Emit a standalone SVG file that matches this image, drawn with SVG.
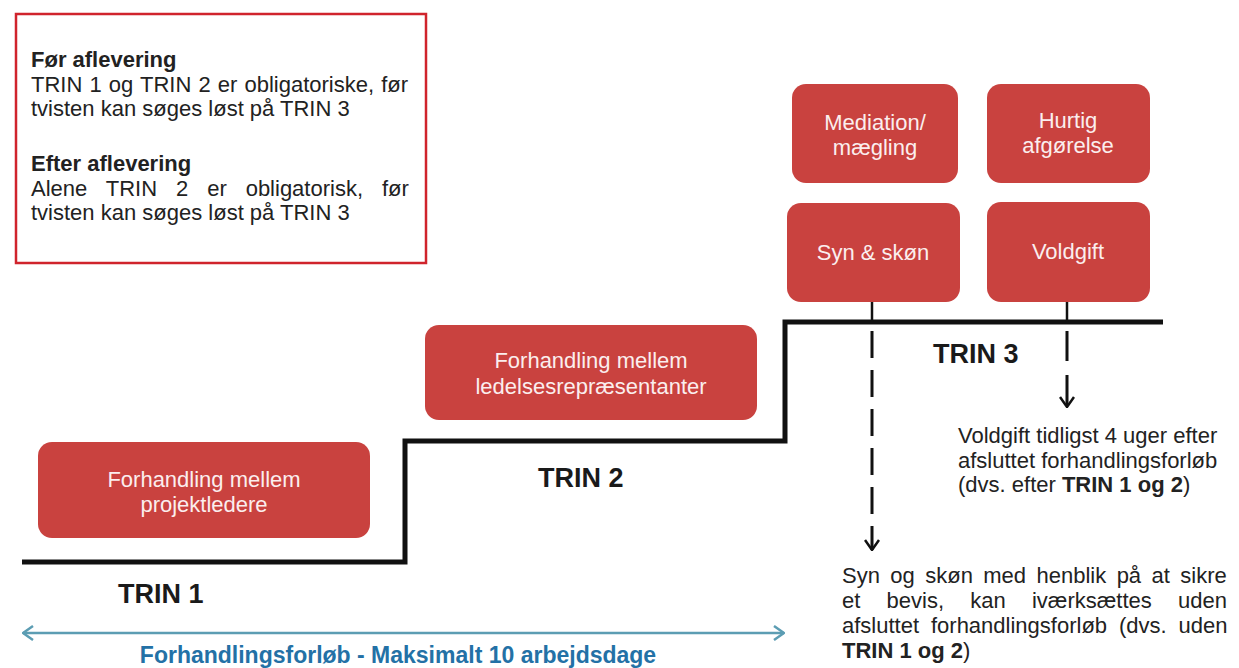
<svg xmlns="http://www.w3.org/2000/svg" width="1239" height="668" viewBox="0 0 1239 668">
<style>
.box{fill:#c9423f;}
.bt{font-family:"Liberation Sans",Arial,sans-serif;font-size:22px;fill:#fbeeee;text-anchor:middle;}
.t{font-family:"Liberation Sans",Arial,sans-serif;font-size:22px;fill:#222;}
.b{font-weight:bold;}
.trin{font-family:"Liberation Sans",Arial,sans-serif;font-size:27px;font-weight:bold;fill:#1a1a1a;}
.dash{fill:none;stroke:#111;stroke-width:3;}
.solid{fill:none;stroke:#111;stroke-width:2.5;}
</style>
<defs>
<marker id="ah" viewBox="0 0 12 16" refX="11" refY="8" markerWidth="12" markerHeight="16" markerUnits="userSpaceOnUse" orient="auto">
<path d="M1,1 L11,8 L1,15" fill="none" stroke="#111" stroke-width="2.5"/>
</marker>
<marker id="bh" viewBox="0 0 12 16" refX="11" refY="8" markerWidth="12" markerHeight="16" markerUnits="userSpaceOnUse" orient="auto-start-reverse">
<path d="M1,1 L11,8 L1,15" fill="none" stroke="#5c9db3" stroke-width="2.5"/>
</marker>
</defs>
<rect width="1239" height="668" fill="#ffffff"/>

<g id="info">
<rect x="16" y="14" width="410" height="249" fill="#ffffff" stroke="#d0242c" stroke-width="2.5"/>
<text class="t b" x="31" y="67">Før aflevering</text>
<text class="t" x="31" y="92" word-spacing="1">TRIN 1 og TRIN 2 er obligatoriske, før</text>
<text class="t" x="31" y="116">tvisten kan søges løst på TRIN 3</text>
<text class="t b" x="31" y="171">Efter aflevering</text>
<text class="t" x="31" y="196" word-spacing="12.8">Alene TRIN 2 er obligatorisk, før</text>
<text class="t" x="31" y="220">tvisten kan søges løst på TRIN 3</text>
</g>

<g id="connectors">
<path d="M22,562 H405 V441 H785 V322 H1163" fill="none" stroke="#111" stroke-width="5"/>
<line class="solid" x1="872" y1="302" x2="872" y2="322"/>
<line class="solid" x1="1067" y1="302" x2="1067" y2="322"/>
<line class="dash" x1="872" y1="331" x2="872" y2="550" stroke-dasharray="27 12" marker-end="url(#ah)"/>
<line class="dash" x1="1067" y1="331" x2="1067" y2="407" stroke-dasharray="30 14" marker-end="url(#ah)"/>
<line x1="23" y1="633" x2="784" y2="633" stroke="#5c9db3" stroke-width="2.5" marker-start="url(#bh)" marker-end="url(#bh)"/>
</g>

<g id="trin1">
<rect class="box" x="38" y="442" width="332" height="96" rx="14"/>
<text class="bt" x="204" y="487">Forhandling mellem</text>
<text class="bt" x="204" y="512">projektledere</text>
</g>

<g id="trin2">
<rect class="box" x="425" y="325" width="332" height="95" rx="14"/>
<text class="bt" x="591" y="368">Forhandling mellem</text>
<text class="bt" x="591" y="394">ledelsesrepræsentanter</text>
</g>

<g id="mediation">
<rect class="box" x="792" y="84" width="166" height="99" rx="14"/>
<text class="bt" x="875" y="130">Mediation/</text>
<text class="bt" x="875" y="155">mægling</text>
</g>

<g id="hurtig">
<rect class="box" x="987" y="84" width="163" height="99" rx="14"/>
<text class="bt" x="1068" y="128">Hurtig</text>
<text class="bt" x="1068" y="153">afgørelse</text>
</g>

<g id="syn">
<rect class="box" x="787" y="203" width="173" height="99" rx="14"/>
<text class="bt" x="873" y="260">Syn &amp; skøn</text>
</g>

<g id="voldgift">
<rect class="box" x="987" y="202" width="163" height="100" rx="14"/>
<text class="bt" x="1068" y="259">Voldgift</text>
</g>

<g id="labels">
<text class="trin" x="118" y="603">TRIN 1</text>
<text class="trin" x="538" y="487">TRIN 2</text>
<text class="trin" x="933" y="363">TRIN 3</text>
<text x="398" y="663" text-anchor="middle" font-family="Liberation Sans, Arial, sans-serif" font-size="23" font-weight="bold" fill="#2371a6">Forhandlingsforløb - Maksimalt 10 arbejdsdage</text>
</g>

<g id="voldgift-note">
<text class="t" x="958" y="443">Voldgift tidligst 4 uger efter</text>
<text class="t" x="958" y="468">afsluttet forhandlingsforløb</text>
<text class="t" x="958" y="492">(dvs. efter <tspan class="b">TRIN 1 og 2</tspan>)</text>
</g>

<g id="syn-note">
<text class="t" x="842" y="583" word-spacing="4.3">Syn og skøn med henblik på at sikre</text>
<text class="t" x="842" y="608" word-spacing="20.1">et bevis, kan iværksættes uden</text>
<text class="t" x="842" y="633" word-spacing="5.8">afsluttet forhandlingsforløb (dvs. uden</text>
<text class="t b" x="842" y="658">TRIN 1 og 2<tspan font-weight="normal">)</tspan></text>
</g>
</svg>
